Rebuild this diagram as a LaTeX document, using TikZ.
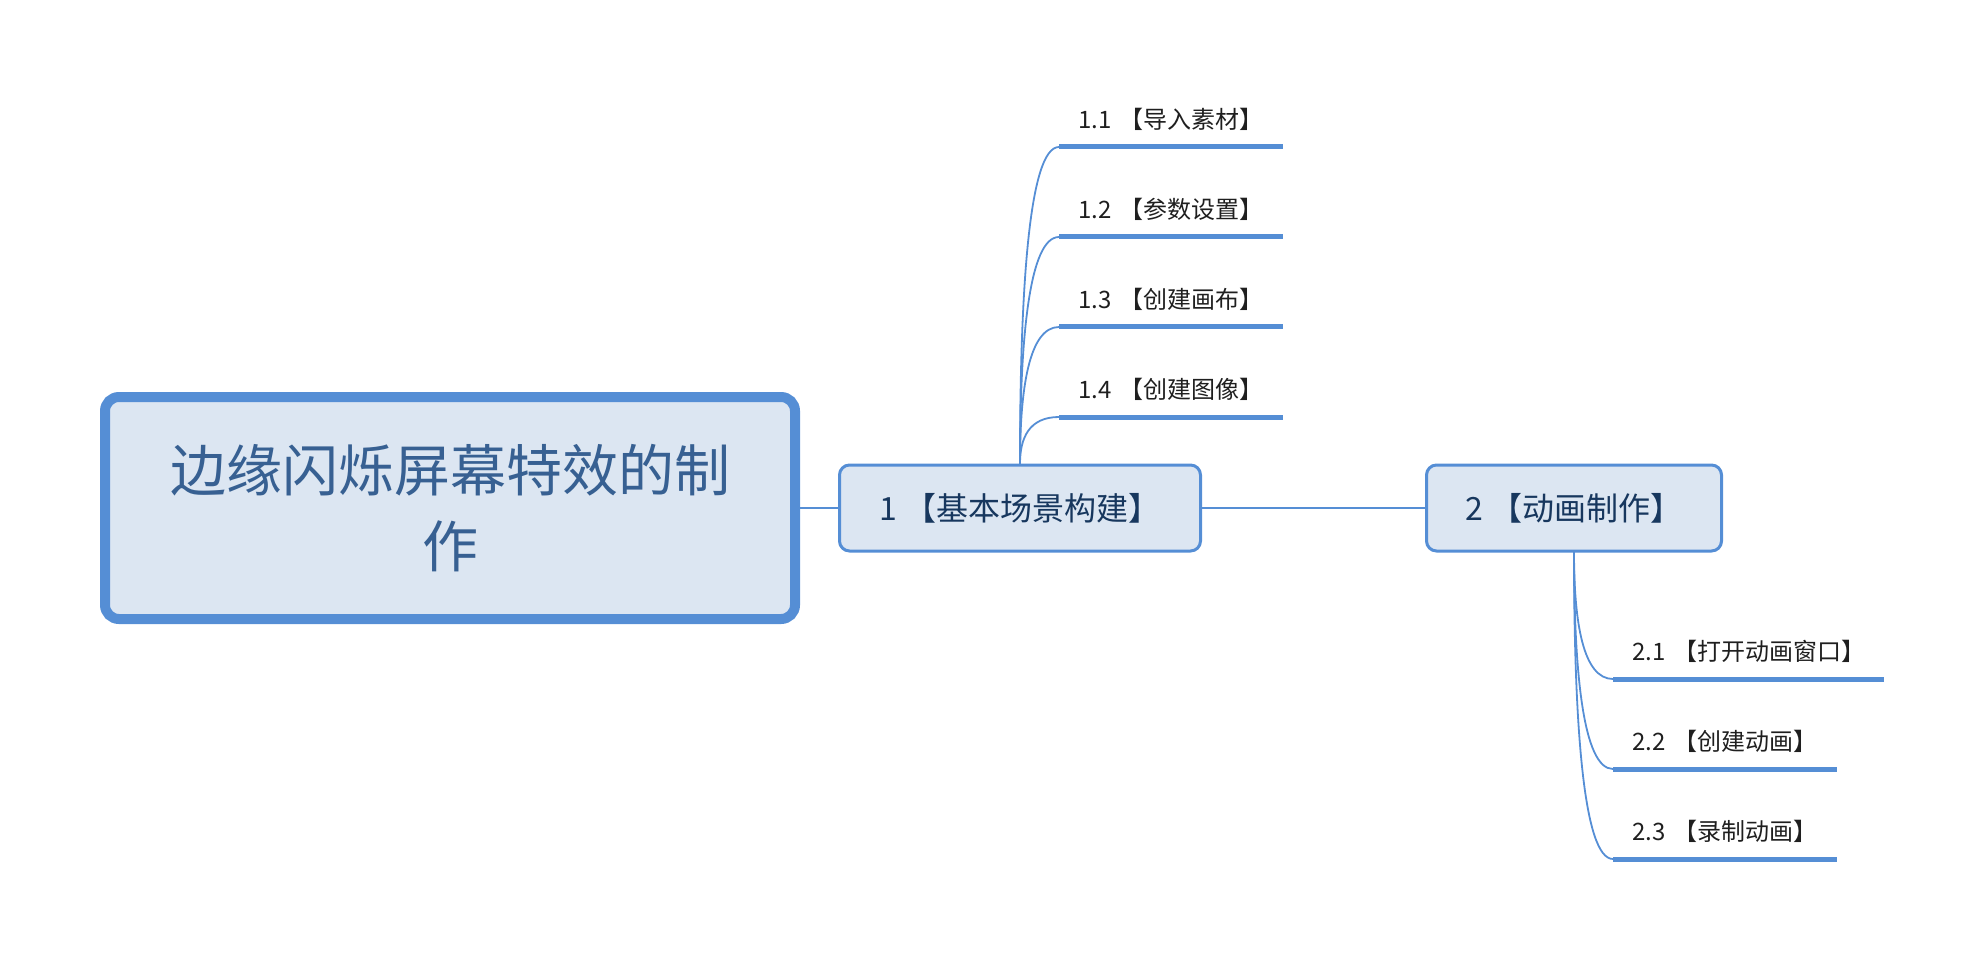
\documentclass[tikz,border=0pt]{standalone}
\usepackage{fontspec}
\setmainfont{Noto Sans CJK SC}
\usetikzlibrary{positioning}
\definecolor{mapblue}{HTML}{558ED5}
\definecolor{mapfill}{HTML}{DCE6F2}
\definecolor{roottext}{HTML}{376092}
\definecolor{topictext}{HTML}{17375E}
\definecolor{subtext}{HTML}{1F1F1F}

\begin{document}
\begin{tikzpicture}[x=0.5pt,y=-0.5pt,cap=round,
	root/.style={draw=mapblue,fill=mapfill,line width=5pt,rounded corners=7pt,minimum width=345pt,minimum height=111pt,text=roottext,font=\fontsize{28}{38}\selectfont,align=center},
	topic/.style={draw=mapblue,fill=mapfill,line width=1.5pt,rounded corners=5pt,minimum height=43pt,text=topictext,font=\fontsize{16}{20}\selectfont},
	sub/.style={anchor=south west,inner xsep=9.5pt,inner ysep=8pt,text=subtext,font=\fontsize{12}{14}\selectfont,align=left},
	twig/.style={draw=mapblue,line width=0.9pt},
	bar/.style={draw=mapblue,line width=2.5pt,line cap=butt}]
	\useasboundingbox (0,0) rectangle (1984,962);
	\node[root] (root) at (450,508) {边缘闪烁屏幕特效的制\\作};
	\node[topic,minimum width=180.5pt] (n1) at (1020,508) {1 【基本场景构建】};
	\node[topic,minimum width=147.5pt] (n2) at (1574,508) {2 【动画制作】};
	\draw[twig] (root) -- (n1);
	\draw[twig] (n1) -- (n2);
	\foreach \n/\y/\t [evaluate=\y as \k using {0.55*(463-\y)}] in {1/147/导入素材, 2/237/参数设置, 3/327/创建画布, 4/417/创建图像}{
		\node[sub,text width=92.5pt] (s1\n) at (1059,\y) {1.\n~【\t】};
		\draw[bar] (s1\n.south west) -- (s1\n.south east);
		\draw[twig] (n1.north) .. controls +(0,-\k) and +(-30,0) .. (s1\n.south west);
	}
	\foreach \n/\y/\w/\t [evaluate=\y as \k using {0.55*(\y-552)}] in {1/679/116pt/打开动画窗口, 2/769/92.5pt/创建动画, 3/859/92.5pt/录制动画}{
		\node[sub,text width=\w] (s2\n) at (1613,\y) {2.\n~【\t】};
		\draw[bar] (s2\n.south west) -- (s2\n.south east);
		\draw[twig] (n2.south) .. controls +(0,\k) and +(-30,0) .. (s2\n.south west);
	}
\end{tikzpicture}
\end{document}
